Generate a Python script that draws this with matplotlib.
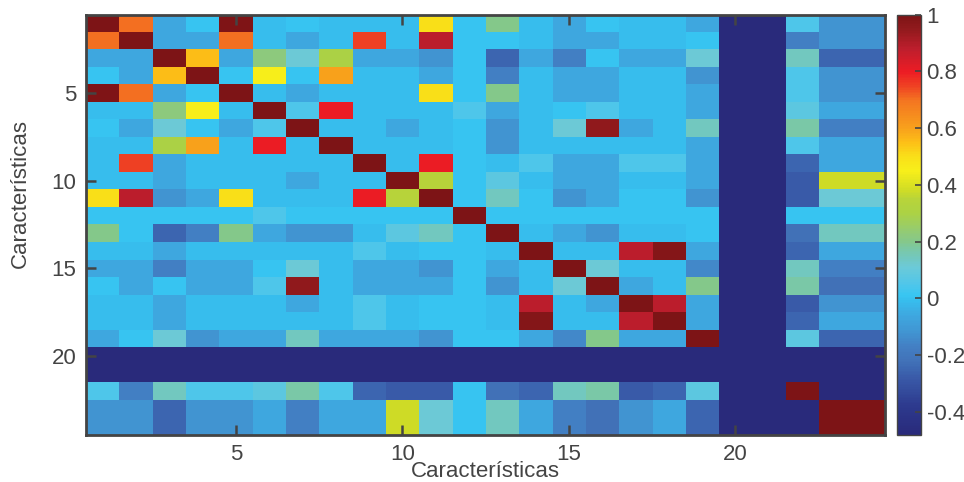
"""Correlation matrix heatmap of the 24 features (jet-like colormap)."""
import numpy as np
import matplotlib
matplotlib.use('Agg')
import matplotlib.pyplot as plt
from matplotlib.colors import LinearSegmentedColormap

plt.rcParams['font.family'] = ['Liberation Sans', 'DejaVu Sans']

# correlation matrix (1-based features 1..24)
corr = [
    [1.00, 0.70, -0.06, 0.01, 0.99, -0.01, 0.01, -0.01, -0.01, -0.01, 0.50, 0.01, 0.20, -0.01, -0.06, 0.01, -0.01, -0.01, -0.06, -0.48, -0.48, 0.05, -0.12, -0.12],
    [0.70, 1.00, -0.06, -0.06, 0.70, -0.01, -0.06, -0.01, 0.75, -0.01, 0.88, 0.01, 0.01, -0.01, -0.06, -0.06, -0.01, -0.01, 0.01, -0.48, -0.48, -0.17, -0.12, -0.12],
    [-0.06, -0.06, 1.00, 0.55, -0.06, 0.22, 0.11, 0.30, -0.06, -0.06, -0.12, 0.01, -0.25, -0.06, -0.17, 0.01, -0.06, -0.06, 0.11, -0.48, -0.48, 0.14, -0.25, -0.25],
    [0.01, -0.06, 0.55, 1.00, 0.01, 0.45, 0.01, 0.60, -0.01, -0.01, -0.06, 0.01, -0.17, -0.01, -0.06, -0.06, -0.01, -0.01, -0.12, -0.48, -0.48, 0.05, -0.12, -0.12],
    [0.99, 0.70, -0.06, 0.01, 1.00, -0.01, -0.06, -0.01, -0.01, -0.01, 0.50, 0.01, 0.20, -0.01, -0.06, -0.06, -0.01, -0.01, -0.06, -0.48, -0.48, 0.05, -0.12, -0.12],
    [-0.01, -0.01, 0.22, 0.45, -0.01, 1.00, 0.05, 0.80, -0.01, -0.01, -0.01, 0.05, -0.06, -0.01, 0.01, 0.05, -0.01, -0.01, -0.06, -0.48, -0.48, 0.08, -0.06, -0.06],
    [0.01, -0.06, 0.11, 0.01, -0.06, 0.05, 1.00, -0.01, -0.01, -0.06, -0.01, 0.01, -0.12, -0.01, 0.11, 0.95, -0.06, -0.01, 0.14, -0.48, -0.48, 0.17, -0.17, -0.17],
    [-0.01, -0.01, 0.30, 0.60, -0.01, 0.80, -0.01, 1.00, -0.01, -0.01, -0.01, 0.01, -0.12, -0.01, -0.01, -0.01, -0.01, -0.01, -0.06, -0.48, -0.48, 0.05, -0.06, -0.06],
    [-0.01, 0.75, -0.06, -0.01, -0.01, -0.01, -0.01, -0.01, 1.00, -0.01, 0.80, 0.01, -0.01, 0.05, -0.06, -0.06, 0.05, 0.05, -0.06, -0.48, -0.48, -0.25, -0.06, -0.06],
    [-0.01, -0.01, -0.06, -0.01, -0.01, -0.01, -0.06, -0.01, -0.01, 1.00, 0.35, 0.01, 0.08, -0.01, -0.06, -0.06, -0.01, -0.01, -0.06, -0.48, -0.48, -0.28, 0.38, 0.38],
    [0.50, 0.88, -0.12, -0.06, 0.50, -0.01, -0.01, -0.01, 0.80, 0.35, 1.00, 0.01, 0.14, 0.01, -0.12, -0.06, 0.01, 0.01, -0.12, -0.48, -0.48, -0.28, 0.11, 0.11],
    [0.01, 0.01, 0.01, 0.01, 0.01, 0.05, 0.01, 0.01, 0.01, 0.01, 0.01, 1.00, 0.01, 0.01, 0.01, 0.01, 0.01, 0.01, 0.01, -0.48, -0.48, 0.01, 0.01, 0.01],
    [0.20, 0.01, -0.25, -0.17, 0.20, -0.06, -0.12, -0.12, -0.01, 0.08, 0.14, 0.01, 1.00, -0.01, -0.06, -0.12, -0.01, -0.01, 0.01, -0.48, -0.48, -0.22, 0.14, 0.14],
    [-0.01, -0.01, -0.06, -0.01, -0.01, -0.01, -0.01, -0.01, 0.05, -0.01, 0.01, 0.01, -0.01, 1.00, -0.01, -0.01, 0.88, 0.98, -0.06, -0.48, -0.48, -0.25, -0.06, -0.06],
    [-0.06, -0.06, -0.17, -0.06, -0.06, 0.01, 0.11, -0.01, -0.06, -0.06, -0.12, 0.01, -0.06, -0.01, 1.00, 0.11, -0.01, -0.01, -0.15, -0.48, -0.48, 0.14, -0.17, -0.17],
    [0.01, -0.06, 0.01, -0.06, -0.06, 0.05, 0.95, -0.01, -0.06, -0.06, -0.06, 0.01, -0.12, -0.01, 0.11, 1.00, -0.06, -0.01, 0.20, -0.48, -0.48, 0.17, -0.22, -0.22],
    [-0.01, -0.01, -0.06, -0.01, -0.01, -0.01, -0.06, -0.01, 0.05, -0.01, 0.01, 0.01, -0.01, 0.88, -0.01, -0.06, 1.00, 0.88, -0.06, -0.48, -0.48, -0.28, -0.12, -0.12],
    [-0.01, -0.01, -0.06, -0.01, -0.01, -0.01, -0.01, -0.01, 0.05, -0.01, 0.01, 0.01, -0.01, 0.98, -0.01, -0.01, 0.88, 1.00, -0.06, -0.48, -0.48, -0.25, -0.06, -0.06],
    [-0.06, 0.01, 0.11, -0.12, -0.06, -0.06, 0.14, -0.06, -0.06, -0.06, -0.12, 0.01, 0.01, -0.06, -0.15, 0.20, -0.06, -0.06, 1.00, -0.48, -0.48, 0.08, -0.25, -0.25],
    [-0.48] * 24,
    [-0.48] * 24,
    [0.05, -0.17, 0.14, 0.05, 0.05, 0.08, 0.17, 0.05, -0.25, -0.28, -0.28, 0.01, -0.22, -0.25, 0.14, 0.17, -0.28, -0.25, 0.08, -0.48, -0.48, 1.00, -0.48, -0.48],
    [-0.12, -0.12, -0.25, -0.12, -0.12, -0.06, -0.17, -0.06, -0.06, 0.38, 0.11, 0.01, 0.14, -0.06, -0.17, -0.22, -0.12, -0.06, -0.25, -0.48, -0.48, -0.48, 1.00, 1.00],
    [-0.12, -0.12, -0.25, -0.12, -0.12, -0.06, -0.17, -0.06, -0.06, 0.38, 0.11, 0.01, 0.14, -0.06, -0.17, -0.22, -0.12, -0.06, -0.25, -0.48, -0.48, -0.48, 1.00, 1.00],
]

axis_ticks = [5, 10, 15, 20]
cbar_ticks = [1, 0.8, 0.6, 0.4, 0.2, 0, -0.2, -0.4]
cbar_labels = ['1', '0.8', '0.6', '0.4', '0.2', '0', '-0.2', '-0.4']
vmin, vmax = -0.48, 1.0

# jet-like colours as they appear in the printed colorbar
anchors = [
    (-0.48, '#292a7b'), (-0.38, '#2d3a8e'), (-0.28, '#3a5ba9'), (-0.25, '#3d67b1'),
    (-0.22, '#4273b9'), (-0.17, '#4380c4'), (-0.12, '#4195d2'), (-0.06, '#3ea8e0'),
    (-0.01, '#37bded'), (0.01, '#38c6f2'), (0.05, '#50c6ea'), (0.08, '#5ec8e0'),
    (0.11, '#6ccad8'), (0.14, '#72c8c0'), (0.17, '#7ac8a8'), (0.20, '#85c88a'),
    (0.22, '#8dc97f'), (0.30, '#acd244'), (0.35, '#b8d43a'), (0.38, '#cfdc26'),
    (0.45, '#f8ef1a'), (0.50, '#f9e019'), (0.55, '#fdbf17'), (0.60, '#f8a11c'),
    (0.70, '#f47421'), (0.75, '#ef4123'), (0.80, '#ed1c24'), (0.88, '#be1e2d'),
    (0.95, '#921a1d'), (1.00, '#7d1416'),
]
cmap = LinearSegmentedColormap.from_list(
    'printjet', [((v - vmin) / (vmax - vmin), c) for v, c in anchors], N=256)

grey = '#444444'

fig = plt.figure(figsize=(9.64, 4.82), dpi=100)
ax = fig.add_axes([0.0892, 0.0985, 0.8289, 0.8714])
n = len(corr)
im = ax.imshow(np.array(corr), cmap=cmap, vmin=vmin, vmax=vmax, aspect='auto',
               interpolation='nearest', extent=(0.5, n + 0.5, n + 0.5, 0.5))

ax.set_xticks(axis_ticks)
ax.set_yticks(axis_ticks)
ax.tick_params(direction='in', length=7, width=1.8, top=True, right=True,
               color=grey, labelcolor=grey, labelsize=16)
ax.tick_params(axis='x', pad=7)
ax.tick_params(axis='y', pad=7)
for s in ax.spines.values():
    s.set_linewidth(2)
    s.set_color(grey)

ax.set_xlabel('Características', fontsize=16, color=grey)
ax.set_ylabel('Características', fontsize=16, color=grey)
ax.xaxis.set_label_coords(0.5, -0.062)
ax.yaxis.set_label_coords(-0.069, 0.573)

cax = fig.add_axes([0.9305, 0.0985, 0.0249, 0.8714])
cb = fig.colorbar(im, cax=cax)
cb.set_ticks(cbar_ticks)
cb.set_ticklabels(cbar_labels)
cb.outline.set_edgecolor(grey)
cb.outline.set_linewidth(1)
cax.tick_params(direction='in', length=4, width=1.2, color=grey,
                labelcolor=grey, labelsize=16, pad=4)

fig.savefig('out.png', dpi=100)
